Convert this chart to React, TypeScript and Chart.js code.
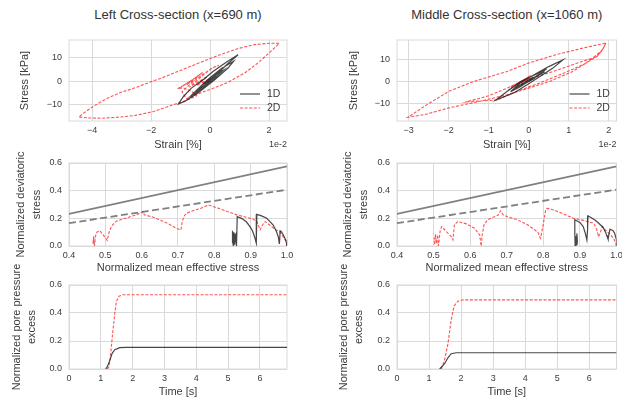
import React, { useEffect, useRef } from 'react';
import { Chart, registerables } from 'chart.js';
Chart.register(...registerables);

const FONT = '"Liberation Sans", Arial, Helvetica, sans-serif';
const TEXT = '#3c3c3c';
const GRID = '#dadada';
const C1D = 'rgba(25,25,25,0.8)';
const C2D = 'rgba(255,25,25,0.75)';
const CFAIL = '#808080';

const TITLES = ['Left Cross-section (x=690 m)', 'Middle Cross-section (x=1060 m)'];
const LABEL_1D = '1D';
const LABEL_2D = '2D';
const X_LABELS = ['Strain [%]', 'Normalized mean effective stress', 'Time [s]'];
const Y_LABELS = [['Stress [kPa]'], ['Normalized deviatoric', 'stress'], ['Normalized pore pressure', 'excess']];
const OFFSET_TEXT = '1e-2';

const TL_X_TICKS = [-4, -2, 0, 2];
const TR_X_TICKS = [-3, -2, -1, 0, 1, 2];
const STRESS_TICKS = [-10, 0, 10];
const P_TICKS = [0.4, 0.5, 0.6, 0.7, 0.8, 0.9, 1.0];
const RATIO_TICKS = [0.0, 0.2, 0.4, 0.6];
const TIME_TICKS = [0, 1, 2, 3, 4, 5, 6];

type P = [number, number];

// Top-left: strain (x1e-2 %) vs stress (kPa)
const TL_1D: P[] = [
  [0, 0], [0.2, 2.2], [-0.15, -1.5], [0.3, 3.8], [-0.3, -3.2], [0.4, 5.2], [-0.45, -5.0],
  [-0.1, -0.5], [0.3, 4.0], [0.6, 7.5], [0.95, 11.4],
  [0.55, 8.2], [0.1, 4.2], [-0.2, 1.0], [-0.63, -2.9], [-0.9, -6.5], [-1.07, -9.7],
  [-0.86, -8.6], [-0.41, -5.0], [0.16, 0.7], [0.61, 5.7], [0.8, 8.6],
  [0.4, 5.6], [0.0, 1.5], [-0.35, -2.5], [-0.65, -6.2],
  [-0.3, -3.8], [0.1, 0.6], [0.45, 4.8],
  [0.1, 2.2], [-0.25, -1.5], [-0.5, -4.8],
  [-0.15, -1.2], [0.2, 2.6], [-0.1, 0.2],
];
const TL_2D: P[] = [
  [0, 0], [-0.25, -1.0], [0.0, 1.2], [-0.45, -1.8], [-0.1, 2.0], [-0.7, -2.5], [-0.2, 3.0],
  [0.05, 5.5], [0.3, 6.9],
  [0.1, 5.8], [-0.3, 2.5], [-0.7, -1.5], [-0.95, -4.5], [-0.8, -7.5],
  [-0.5, -5.8], [0.0, -3.5], [0.6, -0.5], [1.18, 3.6], [1.63, 7.9], [2.07, 12.9], [2.35, 16.3],
  [2.0, 16.3], [1.5, 15.7], [1.0, 14.2], [0.5, 12.1], [0.03, 9.9], [-0.5, 7.2], [-1.08, 4.3],
  [-1.5, 2.1], [-1.96, 0], [-2.5, -2.6], [-3.08, -5.0], [-3.55, -7.7], [-3.95, -10.7],
  [-4.25, -13.3], [-4.45, -15.3],
  [-4.1, -15.7], [-3.67, -15.8], [-3.1, -15.4], [-2.52, -14.6], [-1.9, -12.9], [-1.39, -10.7],
  [-1.08, -9.3], [-0.75, -7.9], [-0.45, -6.2],
  [-0.6, -4.5], [-0.9, -2.8], [-1.1, -3.2], [-0.8, -1.0], [-0.5, 1.5], [-0.25, 3.8],
  [-0.6, 0.5], [-1.0, -2.6], [-0.7, -0.2], [-0.4, 2.0], [-0.8, -1.5], [-0.55, 0.5],
];

// Top-right
const TR_1D: P[] = [
  [0, 0], [0.15, 1.5], [-0.15, -1.5], [0.25, 2.8], [-0.3, -3.0], [0.4, 4.5], [-0.45, -4.5],
  [-0.2, -0.5], [0.2, 3.8], [0.5, 6.8], [0.85, 9.8],
  [0.6, 6.0], [0.3, 2.5], [0.0, -1.0], [-0.35, -5.0], [-0.82, -8.4],
  [-0.5, -4.0], [-0.2, 0], [0.2, 3.5], [0.45, 5.8],
  [0.15, 2.0], [-0.2, -2.2], [-0.45, -4.6],
  [-0.2, -1.5], [0.1, 1.8], [-0.1, -0.5],
];
const TR_2D: P[] = [
  [0, 0], [0.1, 1.0], [-0.2, -1.5], [0.15, 2.0], [-0.35, -2.6], [0.05, 2.8], [-0.5, -3.8],
  [-0.15, 0.5], [0.3, 2.8], [0.6, 4.5], [1.2, 8.3], [1.7, 11.3],
  [1.85, 14.5], [1.93, 17.5],
  [1.85, 14.5], [1.5, 9.2], [1.1, 4.6], [0.52, 0], [0.0, -3.0], [-0.54, -6.0], [-1.22, -9.0],
  [-2.0, -12.0], [-2.54, -14.8], [-3.02, -16.3],
  [-2.54, -10.5], [-2.0, -4.5], [-1.38, 0], [-0.54, 4.6], [0.0, 8.4], [0.68, 12.2], [1.35, 15.2],
  [1.93, 17.5],
  [1.85, 14.8], [1.72, 11.6],
  [1.4, 8.0], [0.9, 4.0], [0.3, -0.5], [-0.3, -4.5], [-0.8, -8.4], [-1.55, -9.2],
  [-1.0, -6.5], [-0.54, -3.0], [-0.1, 0.8], [-0.45, -2.5], [-0.05, 1.5], [-0.35, -1.8],
  [0.0, 1.2], [-0.3, -1.0],
];

// Middle: normalized mean effective stress vs normalized deviatoric stress
const FAIL_P = [0.4, 1.0];
const FAIL_SOLID = [0.232, 0.576];
const FAIL_DASHED = [0.165, 0.407];

const ML_1D: P[] = [
  [1.0, 0.0], [0.997, 0.04], [0.99, 0.08], [0.984, 0.105], [0.981, 0.11], [0.98, 0.05], [0.979, 0.015],
  [0.976, 0.067], [0.97, 0.11], [0.962, 0.152], [0.952, 0.18], [0.944, 0.2], [0.93, 0.218], [0.917, 0.229],
  [0.916, 0.12], [0.915, 0.02],
  [0.912, 0.056], [0.905, 0.11], [0.898, 0.14], [0.888, 0.175], [0.876, 0.198], [0.863, 0.212],
  [0.862, 0.1], [0.861, 0.0],
  [0.858, 0.09], [0.856, 0.01], [0.854, 0.1], [0.852, 0.0], [0.85, 0.11], [0.849, 0.02],
  [0.851, 0.09], [0.853, 0.005],
];
const ML_2D: P[] = [
  [1.0, 0.0], [0.999, 0.031], [0.993, 0.05], [0.981, 0.1], [0.965, 0.125], [0.953, 0.15], [0.94, 0.176],
  [0.932, 0.15], [0.926, 0.116], [0.921, 0.15], [0.917, 0.178], [0.905, 0.196], [0.888, 0.208],
  [0.862, 0.225], [0.835, 0.25], [0.815, 0.27], [0.797, 0.285], [0.783, 0.297],
  [0.765, 0.275], [0.745, 0.258], [0.728, 0.242], [0.718, 0.222], [0.712, 0.18], [0.708, 0.116],
  [0.696, 0.128], [0.668, 0.169], [0.632, 0.208], [0.607, 0.226], [0.604, 0.249],
  [0.586, 0.226], [0.558, 0.203], [0.531, 0.18], [0.517, 0.145], [0.51, 0.095], [0.505, 0.04],
  [0.5, 0.06], [0.494, 0.08], [0.485, 0.11], [0.478, 0.103], [0.474, 0.085], [0.472, 0.045],
  [0.47, 0.0], [0.469, 0.06], [0.467, 0.02], [0.468, 0.07], [0.466, 0.01], [0.467, 0.05],
];
const MR_1D: P[] = [
  [1.0, 0.0], [1.0, 0.044], [0.995, 0.092], [0.99, 0.113], [0.982, 0.121], [0.979, 0.08], [0.977, 0.048],
  [0.97, 0.1], [0.963, 0.136], [0.95, 0.168], [0.94, 0.189], [0.93, 0.206], [0.922, 0.218],
  [0.921, 0.12], [0.919, 0.044],
  [0.915, 0.09], [0.909, 0.14], [0.9, 0.17], [0.895, 0.177], [0.886, 0.19],
  [0.886, 0.09], [0.887, 0.0],
  [0.889, 0.07], [0.89, 0.01], [0.892, 0.09], [0.893, 0.02], [0.891, 0.06], [0.889, 0.0],
];
const MR_2D: P[] = [
  [1.0, 0.0], [0.998, 0.02], [0.992, 0.056], [0.982, 0.085], [0.974, 0.103], [0.966, 0.125], [0.961, 0.14],
  [0.956, 0.1], [0.951, 0.067], [0.946, 0.12], [0.938, 0.164], [0.91, 0.185], [0.883, 0.2],
  [0.858, 0.228], [0.831, 0.258], [0.815, 0.27], [0.81, 0.272],
  [0.806, 0.255], [0.8, 0.16], [0.795, 0.09], [0.792, 0.056],
  [0.785, 0.1], [0.76, 0.148], [0.73, 0.189], [0.7, 0.213], [0.69, 0.225], [0.683, 0.255],
  [0.676, 0.222], [0.66, 0.205], [0.648, 0.19], [0.638, 0.155], [0.633, 0.08], [0.63, 0.0],
  [0.626, 0.08], [0.612, 0.128], [0.59, 0.16], [0.566, 0.177], [0.557, 0.153], [0.553, 0.044],
  [0.548, 0.068], [0.535, 0.105], [0.522, 0.14], [0.518, 0.11], [0.515, 0.04], [0.513, 0.0],
  [0.511, 0.08], [0.508, 0.02], [0.505, 0.085], [0.503, 0.01], [0.502, 0.06],
];

// Bottom: time vs normalized pore pressure excess
const BL_T_1D = [1.15, 1.2, 1.28, 1.36, 1.44, 1.59, 1.8, 6.85];
const BL_U_1D = [0, 0.015, 0.06, 0.114, 0.138, 0.153, 0.155, 0.155];
const BL_T_2D = [1.2, 1.25, 1.3, 1.36, 1.44, 1.49, 1.57, 1.7, 2.0, 6.85];
const BL_U_2D = [0, 0.012, 0.085, 0.23, 0.4, 0.484, 0.52, 0.53, 0.53, 0.53];
const BR_T_1D = [1.33, 1.48, 1.59, 1.69, 1.85, 6.85];
const BR_U_1D = [0, 0.036, 0.08, 0.109, 0.116, 0.116];
const BR_T_2D = [1.38, 1.48, 1.59, 1.69, 1.78, 1.9, 2.06, 6.85];
const BR_U_2D = [0, 0.06, 0.18, 0.35, 0.45, 0.484, 0.494, 0.494];

const fromPairs = (a: P[]) => a.map(([x, y]) => ({ x, y }));
const zip = (xs: number[], ys: number[]) => xs.map((x, i) => ({ x, y: ys[i] }));

const ds1D = (data: any[]) => ({ label: LABEL_1D, data, showLine: true, pointRadius: 0, borderColor: C1D, borderWidth: 1.2, fill: false, tension: 0 });
const ds2D = (data: any[]) => ({ label: LABEL_2D, data, showLine: true, pointRadius: 0, borderColor: C2D, borderWidth: 1.1, borderDash: [3, 1.6], fill: false, tension: 0 });
const dsFail = (ys: number[], dashed: boolean) => ({ label: '', data: zip(FAIL_P, ys), showLine: true, pointRadius: 0, borderColor: CFAIL, borderWidth: 1.8, borderDash: dashed ? [7, 3.5] : [], fill: false, tension: 0 });

const signed = (v: number) => (v < 0 ? '\u2212' + Math.abs(v) : String(v));
const dec1 = (v: number) => v.toFixed(1);
const int = (v: number) => String(Math.round(v));

type Spec = {
  box: number[]; // left, top, width, height
  plot: number[]; // l, t, r, b
  x: { min: number; max: number; ticks: number[]; fmt: (v: number) => string; title: string; pad: number };
  y: { min: number; max: number; ticks: number[]; fmt: (v: number) => string; title: string[]; pad: number; lh: number };
  datasets: any[];
  legend?: boolean;
  offset?: boolean;
};

const framePlugin = {
  id: 'frame',
  beforeDatasetsDraw(chart: any) {
    const { ctx, chartArea: a } = chart;
    ctx.save();
    ctx.strokeStyle = GRID;
    ctx.lineWidth = 1;
    ctx.strokeRect(a.left, a.top, a.right - a.left, a.bottom - a.top);
    ctx.restore();
  },
};

const legendPlugin = {
  id: 'innerLegend',
  afterDatasetsDraw(chart: any) {
    const { ctx, chartArea: a } = chart;
    chart.data.datasets
      .filter((d: any) => d.label === LABEL_1D || d.label === LABEL_2D)
      .forEach((d: any, i: number) => {
        const y = a.top + 54 + i * 14;
        ctx.save();
        ctx.strokeStyle = d.borderColor;
        ctx.lineWidth = d.borderWidth;
        ctx.setLineDash(d.borderDash || []);
        ctx.beginPath();
        ctx.moveTo(a.right - 47, y);
        ctx.lineTo(a.right - 27, y);
        ctx.stroke();
        ctx.setLineDash([]);
        ctx.fillStyle = TEXT;
        ctx.font = `10.5px ${FONT}`;
        ctx.textBaseline = 'middle';
        ctx.textAlign = 'left';
        ctx.fillText(d.label, a.right - 20, y);
        ctx.restore();
      });
  },
};

const offsetPlugin = {
  id: 'offsetText',
  afterDraw(chart: any) {
    const { ctx, chartArea: a } = chart;
    ctx.save();
    ctx.fillStyle = TEXT;
    ctx.font = `9px ${FONT}`;
    ctx.textAlign = 'right';
    ctx.textBaseline = 'middle';
    ctx.fillText(OFFSET_TEXT, a.right, a.bottom + 24);
    ctx.restore();
  },
};

function Panel({ spec }: { spec: Spec }) {
  const ref = useRef<HTMLCanvasElement>(null);
  const [bl, bt, bw, bh] = spec.box;
  const [pl, pt, pr, pb] = spec.plot;
  useEffect(() => {
    const tickFont = { family: FONT, size: 9 };
    const plugins: any[] = [framePlugin];
    if (spec.legend) plugins.push(legendPlugin);
    if (spec.offset) plugins.push(offsetPlugin);
    const chart = new Chart(ref.current as HTMLCanvasElement, {
      type: 'scatter',
      data: { datasets: spec.datasets },
      options: {
        animation: false,
        responsive: false,
        maintainAspectRatio: false,
        layout: { padding: { top: pt - bt, right: bl + bw - pr, left: 0, bottom: 0 } },
        plugins: { legend: { display: false }, tooltip: { enabled: false } },
        scales: {
          x: {
            type: 'linear',
            bounds: 'data',
            min: spec.x.min,
            max: spec.x.max,
            afterBuildTicks: (s: any) => { s.ticks = spec.x.ticks.map((v) => ({ value: v })); },
            afterFit: (s: any) => { s.height = bt + bh - pb; s.paddingLeft = 0; s.paddingRight = 0; },
            ticks: { callback: (v: any) => spec.x.fmt(Number(v)), font: tickFont, color: TEXT, padding: 4, maxRotation: 0, autoSkip: false },
            grid: { color: GRID, drawTicks: false, lineWidth: 1 },
            border: { display: false },
            title: { display: true, text: spec.x.title, color: TEXT, font: { family: FONT, size: 11 }, padding: { top: 0, bottom: spec.x.pad } },
          },
          y: {
            type: 'linear',
            bounds: 'data',
            min: spec.y.min,
            max: spec.y.max,
            afterBuildTicks: (s: any) => { s.ticks = spec.y.ticks.map((v) => ({ value: v })); },
            afterFit: (s: any) => { s.width = pl - bl; s.paddingTop = 0; s.paddingBottom = 0; },
            ticks: { callback: (v: any) => spec.y.fmt(Number(v)), font: tickFont, color: TEXT, padding: 7, autoSkip: false },
            grid: { color: GRID, drawTicks: false, lineWidth: 1 },
            border: { display: false },
            title: { display: true, text: spec.y.title, color: TEXT, font: { family: FONT, size: 11, lineHeight: spec.y.lh }, padding: { top: spec.y.pad, bottom: 0 } },
          },
        },
      } as any,
      plugins,
    });
    return () => chart.destroy();
  }, []);
  return (
    <canvas
      ref={ref}
      width={bw}
      height={bh}
      style={{ position: 'absolute', left: bl, top: bt, width: bw, height: bh }}
    />
  );
}

const COL_L = { box: 0, l: 69, r: 287 };
const COL_R = { box: 311, l: 397, r: 616.5 };
const ROW_T = { top: 25, bottom: 152, t: 40, b: 121 };
const ROW_M = { top: 135, bottom: 276, t: 163, b: 246 };
const ROW_B = { top: 255, bottom: 400, t: 285, b: 369 };

const mk = (col: any, row: any) => ({
  box: [col.box, row.top, 311, row.bottom - row.top],
  plot: [col.l, row.t, col.r, row.b],
});

const SPECS: Spec[] = [
  {
    ...mk(COL_L, ROW_T),
    x: { min: -4.78, max: 2.61, ticks: TL_X_TICKS, fmt: signed, title: X_LABELS[0], pad: 0.4 },
    y: { min: -17.0, max: 17.7, ticks: STRESS_TICKS, fmt: signed, title: Y_LABELS[0], pad: 18.4, lh: 1.2 },
    datasets: [ds1D(fromPairs(TL_1D)), ds2D(fromPairs(TL_2D))],
    legend: true,
    offset: true,
  },
  {
    ...mk(COL_R, ROW_T),
    x: { min: -3.29, max: 2.195, ticks: TR_X_TICKS, fmt: signed, title: X_LABELS[0], pad: 0.4 },
    y: { min: -17.95, max: 18.9, ticks: STRESS_TICKS, fmt: signed, title: Y_LABELS[0], pad: 36.4, lh: 1.2 },
    datasets: [ds1D(fromPairs(TR_1D)), ds2D(fromPairs(TR_2D))],
    legend: true,
    offset: true,
  },
  {
    ...mk(COL_L, ROW_M),
    x: { min: 0.4, max: 1.0, ticks: P_TICKS, fmt: dec1, title: X_LABELS[1], pad: 1.4 },
    y: { min: 0, max: 0.6, ticks: RATIO_TICKS, fmt: dec1, title: Y_LABELS[1], pad: 12.4, lh: 1.5 },
    datasets: [ds1D(fromPairs(ML_1D)), ds2D(fromPairs(ML_2D)), dsFail(FAIL_SOLID, false), dsFail(FAIL_DASHED, true)],
  },
  {
    ...mk(COL_R, ROW_M),
    x: { min: 0.4, max: 1.0, ticks: P_TICKS, fmt: dec1, title: X_LABELS[1], pad: 1.4 },
    y: { min: 0, max: 0.6, ticks: RATIO_TICKS, fmt: dec1, title: Y_LABELS[1], pad: 28.7, lh: 1.5 },
    datasets: [ds1D(fromPairs(MR_1D)), ds2D(fromPairs(MR_2D)), dsFail(FAIL_SOLID, false), dsFail(FAIL_DASHED, true)],
  },
  {
    ...mk(COL_L, ROW_B),
    x: { min: 0, max: 6.85, ticks: TIME_TICKS, fmt: int, title: X_LABELS[2], pad: 1.4 },
    y: { min: 0, max: 0.6, ticks: RATIO_TICKS, fmt: dec1, title: Y_LABELS[2], pad: 9, lh: 1.4 },
    datasets: [ds1D(zip(BL_T_1D, BL_U_1D)), ds2D(zip(BL_T_2D, BL_U_2D))],
  },
  {
    ...mk(COL_R, ROW_B),
    x: { min: 0, max: 6.85, ticks: TIME_TICKS, fmt: int, title: X_LABELS[2], pad: 1.4 },
    y: { min: 0, max: 0.6, ticks: RATIO_TICKS, fmt: dec1, title: Y_LABELS[2], pad: 25.3, lh: 1.4 },
    datasets: [ds1D(zip(BR_T_1D, BR_U_1D)), ds2D(zip(BR_T_2D, BR_U_2D))],
  },
] as any;

export default function App() {
  const cols = [COL_L, COL_R];
  return (
    <div style={{ position: 'fixed', left: 0, top: 0, width: 622, height: 397, overflow: 'hidden', background: '#fff' }}>
      {TITLES.map((t, i) => (
        <div
          key={t}
          style={{
            position: 'absolute',
            left: cols[i].l,
            width: cols[i].r - cols[i].l,
            top: 6,
            textAlign: 'center',
            font: `13px ${FONT}`,
            lineHeight: '18px',
            color: '#333',
            whiteSpace: 'nowrap',
          }}
        >
          {t}
        </div>
      ))}
      {SPECS.map((s, i) => (
        <Panel key={i} spec={s} />
      ))}
    </div>
  );
}
